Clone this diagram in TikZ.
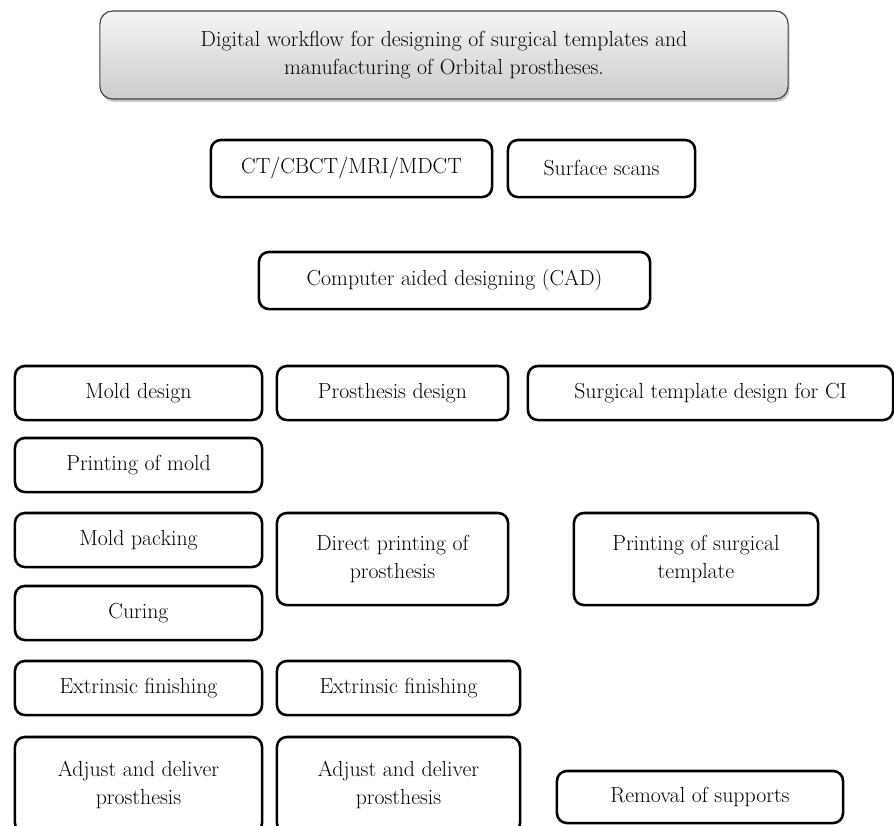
\documentclass[tikz,border=0pt]{standalone}
\usepackage{tikz}
\usetikzlibrary{shadows}

\begin{document}
\begin{tikzpicture}
		[
		x=0.025cm, y=-0.025cm,
		every node/.style={align=center, font=\fontsize{15.5}{19.5}\selectfont},
		step box/.style={draw, line width=1.8pt, rounded corners=7pt, fill=white, inner sep=2pt},
		head box/.style={draw=black!75, line width=0.8pt, rounded corners=9pt, top color=gray!8, bottom color=gray!40, drop shadow={shadow xshift=1pt, shadow yshift=-2pt, opacity=0.4}}
		]
		\useasboundingbox (0,0) rectangle (894,825);
		% heading
		\node[head box, minimum width=17.2cm, minimum height=2.2cm] (head) at (444,55) {Digital workflow for designing of surgical templates and\\manufacturing of Orbital prostheses.};
		% imaging and CAD
		\node[step box, minimum width=7.025cm, minimum height=1.425cm] (imaging) at (351.5,168.5) {CT/CBCT/MRI/MDCT};
		\node[step box, minimum width=4.675cm, minimum height=1.425cm] (scans) at (601.5,168.5) {Surface scans};
		\node[step box, minimum width=9.775cm, minimum height=1.425cm] (cad) at (454.5,280.5) {Computer aided designing (CAD)};
		% mold branch
		\node[step box, minimum width=6.175cm, minimum height=1.35cm] (molddesign) at (138.5,393) {Mold design};
		\node[step box, minimum width=6.175cm, minimum height=1.35cm] (moldprint) at (138.5,465) {Printing of mold};
		\node[step box, minimum width=6.175cm, minimum height=1.35cm] (moldpack) at (138.5,540) {Mold packing};
		\node[step box, minimum width=6.175cm, minimum height=1.35cm] (curing) at (138.5,613) {Curing};
		\node[step box, minimum width=6.175cm, minimum height=1.35cm] (finishA) at (138.5,688) {Extrinsic finishing};
		\node[step box, minimum width=6.175cm, minimum height=2.4cm] (deliverA) at (138.5,785) {Adjust and deliver\\prosthesis};
		% direct printing branch
		\node[step box, minimum width=5.775cm, minimum height=1.35cm] (prosdesign) at (392.5,393) {Prosthesis design};
		\node[step box, minimum width=5.775cm, minimum height=2.3cm] (directprint) at (392.5,559) {Direct printing of\\prosthesis};
		\node[step box, minimum width=6.075cm, minimum height=1.35cm] (finishB) at (398.5,688) {Extrinsic finishing};
		\node[step box, minimum width=6.075cm, minimum height=2.4cm] (deliverB) at (398.5,785) {Adjust and deliver\\prosthesis};
		% surgical template branch
		\node[step box, minimum width=9.125cm, minimum height=1.35cm] (templdesign) at (710.5,393) {Surgical template design for CI};
		\node[step box, minimum width=6.1cm, minimum height=2.3cm] (templprint) at (696,559) {Printing of surgical\\template};
		\node[step box, minimum width=7.15cm, minimum height=1.3cm] (supports) at (700,797) {Removal of supports};
\end{tikzpicture}
\end{document}
